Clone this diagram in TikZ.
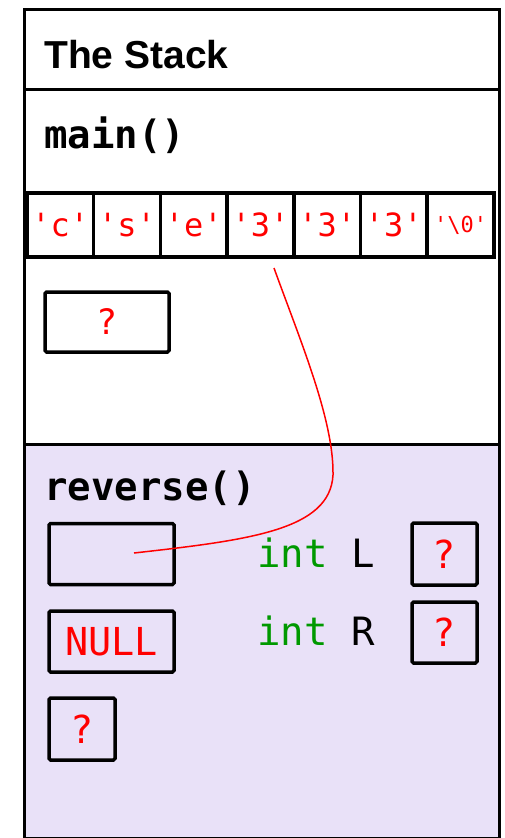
\documentclass[tikz,border=0pt]{standalone}
\usepackage{fontspec}
\setmainfont{Liberation Sans}
\newfontfamily\codefont{DejaVu Sans Mono}
\definecolor{lav}{RGB}{233,225,248}
\definecolor{cred}{RGB}{255,0,0}
\definecolor{cgreen}{RGB}{0,153,0}
\begin{document}
\begin{tikzpicture}[x=1pt,y=-1pt,
  frame/.style={draw=black,line width=3pt},
  cell/.style={draw=black,line width=3.5pt,minimum width=66.7pt,minimum height=64pt,inner sep=0pt,text=cred,font=\codefont\fontsize{32}{35}\selectfont},
  varbox/.style={draw=black,line width=3.5pt,rounded corners=1.5pt,inner sep=0pt,text=cred,font=\codefont\fontsize{38.5}{42}\selectfont},
  label/.style={anchor=base west,inner sep=0pt},
  codelbl/.style={label,font=\codefont\fontsize{39}{42}\selectfont}
]
\useasboundingbox (0,0) rectangle (505,838);
% background of reverse frame
\fill[lav] (24,444) rectangle (499,840);
% frame
\draw[frame] (24,840) -- (24,9) -- (499,9) -- (499,840);
\draw[frame] (24,89) -- (499,89);
\draw[frame] (24,444) -- (499,444);
\draw[frame] (24,838) -- (499,838);
% titles
\node[label,font=\bfseries\fontsize{39}{44}\selectfont] (title) at (44,68) {The Stack};
\node[label,font=\codefont\bfseries\fontsize{39}{42}\selectfont] (mainlbl) at (44,148) {main()};
\node[label,font=\codefont\bfseries\fontsize{39}{42}\selectfont] (revlbl) at (44,500) {reverse()};
% array
\foreach \t [count=\i from 0] in {'c','s','e','3','3','3'} {
  \node[cell] (c\i) at ({27+66.7*(\i+0.5)},225) {\t};
}
\node[cell,font=\codefont\fontsize{22}{26}\selectfont] (c6) at ({27+66.7*6.5},225) {'\textbackslash 0'};
% main var
\node[varbox,minimum width=124pt,minimum height=60pt,font=\codefont\fontsize{35}{38}\selectfont] (mq) at (107,322) {?};
% reverse vars
\node[varbox,minimum width=125pt,minimum height=61pt] (ptr) at (111.5,554) {};
\node[varbox,minimum width=125pt,minimum height=61pt] (nul) at (111.5,641.5) {NULL};
\node[varbox,minimum width=66pt,minimum height=62pt] (q3) at (82,729) {?};
\node[codelbl] (intL) at (257,567) {\textcolor{cgreen}{int} L};
\node[codelbl] (intR) at (257,645) {\textcolor{cgreen}{int} R};
\node[varbox,minimum width=65pt,minimum height=62pt] (Lbox) at (444.5,554) {?};
\node[varbox,minimum width=65pt,minimum height=61pt] (Rbox) at (444.5,632.5) {?};
% pointer curve
\coordinate (psrc) at (274,268);
\coordinate (pdst) at (134,553);
\draw[cred,line width=1.5pt] (psrc) .. controls (300,340) and (334,420) .. (333,475)
  .. controls (330,530) and (250,540) .. (pdst);
\end{tikzpicture}
\end{document}
